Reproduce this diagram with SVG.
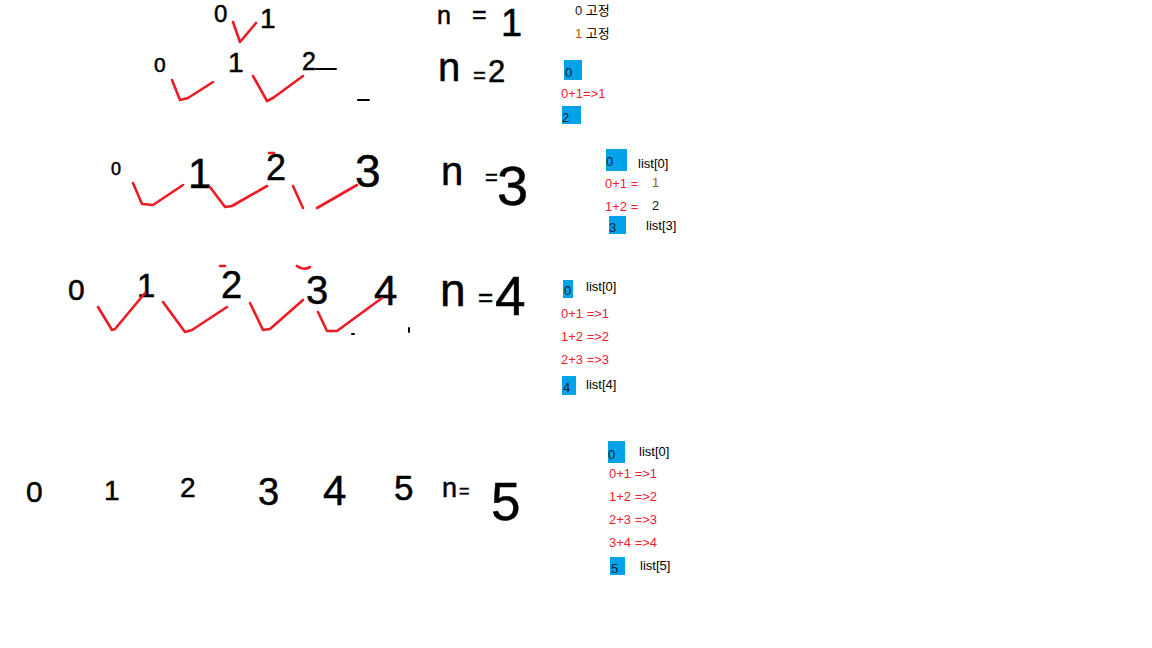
<svg xmlns="http://www.w3.org/2000/svg" width="1152" height="648" viewBox="0 0 1152 648">
<style>
.h{font-family:"Liberation Sans",Arial,sans-serif;fill:#000;stroke:#000;stroke-width:0.5;}
.ck{fill:none;stroke:#ed1c24;stroke-width:2.6;stroke-linecap:round;stroke-linejoin:round;}
.mk{fill:none;stroke:#000;stroke-width:2;stroke-linecap:round;}
.t{font-family:"Liberation Sans","Noto Sans CJK KR",sans-serif;font-size:13px;fill:#000;}
.r{font-family:"Liberation Sans",sans-serif;font-size:13px;fill:#f52030;}
.d{fill:#102030;}
.o{fill:#9a5a10;}
.box{fill:#00a2e8;}
</style>
<rect width="1152" height="648" fill="#fff"/>

<g id="row1">
<text class="h" x="214" y="22" font-size="24">0</text>
<text class="h" x="260" y="28" font-size="28">1</text>
<text class="h"><tspan x="437" y="24" font-size="25">n</tspan><tspan x="472" y="23" font-size="25">=</tspan><tspan x="501" y="36" font-size="38">1</tspan></text>
</g>

<g id="row2">
<text class="h" x="154" y="72" font-size="21">0</text>
<text class="h" x="228" y="72" font-size="28">1</text>
<text class="h" x="302" y="70" font-size="25">2</text>
<path class="mk" d="M316 69 L336 69"/>
<text class="h"><tspan x="438" y="81" font-size="40">n</tspan><tspan x="473" y="83" font-size="22">=</tspan><tspan x="488" y="82" font-size="31">2</tspan></text>
<path class="mk" d="M358 100 L369 100"/>
</g>

<g id="row3">
<text class="h" x="111" y="175" font-size="18">0</text>
<text class="h" x="188" y="188" font-size="42">1</text>
<text class="h" x="266" y="180" font-size="36">2</text>
<text class="h" x="355" y="187" font-size="46">3</text>
<text class="h"><tspan x="441" y="185" font-size="40">n</tspan><tspan x="485" y="185" font-size="22">=</tspan><tspan x="497" y="205" font-size="56">3</tspan></text>
</g>

<g id="row4">
<text class="h" x="68" y="300" font-size="30">0</text>
<text class="h" x="137" y="297" font-size="33">1</text>
<text class="h" x="221" y="298" font-size="38">2</text>
<text class="h" x="306" y="304" font-size="40">3</text>
<text class="h" x="374" y="305" font-size="42">4</text>
<text class="h"><tspan x="440" y="306" font-size="46">n</tspan><tspan x="478" y="306" font-size="26">=</tspan><tspan x="495" y="315" font-size="55">4</tspan></text>
<path class="mk" d="M352 334 L354 334 M409 328 L409 332"/>
</g>

<g id="row5">
<text class="h" x="26" y="502" font-size="30">0</text>
<text class="h" x="104" y="500" font-size="28">1</text>
<text class="h" x="180" y="497" font-size="28">2</text>
<text class="h" x="258" y="505" font-size="38">3</text>
<text class="h" x="323" y="505" font-size="42">4</text>
<text class="h" x="394" y="500" font-size="35">5</text>
<text class="h"><tspan x="442" y="497" font-size="27">n</tspan><tspan x="459" y="497" font-size="18">=</tspan><tspan x="491" y="520" font-size="53">5</tspan></text>
</g>

<g id="connectors">
<polyline class="ck" points="233,22 240,42 256,23"/>
<polyline class="ck" points="172,80 180,100 188,98 213,82"/>
<polyline class="ck" points="253,76 267,101 273,98 303,76"/>
<polyline class="ck" points="133,183 142,204 153,205 183,185"/>
<polyline class="ck" points="210,187 225,207 232,206 267,186"/>
<polyline class="ck" points="293,186 303,208"/>
<polyline class="ck" points="317,208 357,185"/>
<path class="ck" d="M269 153 L274 153"/>
<polyline class="ck" points="98,307 112,330 115,329 145,293"/>
<polyline class="ck" points="163,302 185,332 192,330 227,307"/>
<polyline class="ck" points="250,303 263,330 270,329 303,300"/>
<polyline class="ck" points="318,312 327,331 337,331 382,298"/>
<path class="ck" d="M220 266 L225 266"/>
<path class="ck" d="M297 266 Q303 271 310 267"/>
</g>

<g id="panel1">
<text class="t" x="575" y="15"><tspan class="d">0</tspan> 고정</text>
<text class="t" x="575" y="38"><tspan class="o">1</tspan> 고정</text>
</g>

<g id="panel2">
<rect class="box" x="564" y="60" width="18" height="20"/>
<text class="t d" x="565" y="77">0</text>
<text class="r" x="561" y="98">0+1=&gt;1</text>
<rect class="box" x="562" y="106" width="19" height="18"/>
<text class="t d" x="562" y="122">2</text>
</g>

<g id="panel3">
<rect class="box" x="606" y="149" width="21" height="22"/>
<text class="t d" x="606" y="166">0</text>
<text class="t" x="638" y="168">list[0]</text>
<text class="r" x="605" y="188">0+1 =</text>
<text class="t o" x="652" y="187">1</text>
<text class="r" x="605" y="211">1+2 =</text>
<text class="t d" x="652" y="210">2</text>
<rect class="box" x="609" y="216" width="17" height="18"/>
<text class="t d" x="609" y="232">3</text>
<text class="t" x="646" y="230">list[3]</text>
</g>

<g id="panel4">
<rect class="box" x="563" y="280" width="10" height="18"/>
<text class="t d" x="564" y="295">0</text>
<text class="t" x="586" y="291">list[0]</text>
<text class="r" x="561" y="318">0+1 =&gt;1</text>
<text class="r" x="561" y="341">1+2 =&gt;2</text>
<text class="r" x="561" y="364">2+3 =&gt;3</text>
<rect class="box" x="562" y="376" width="14" height="19"/>
<text class="t d" x="563" y="392">4</text>
<text class="t" x="586" y="389">list[4]</text>
</g>

<g id="panel5">
<rect class="box" x="608" y="441" width="17" height="22"/>
<text class="t d" x="608" y="459">0</text>
<text class="t" x="639" y="456">list[0]</text>
<text class="r" x="609" y="478">0+1 =&gt;1</text>
<text class="r" x="609" y="501">1+2 =&gt;2</text>
<text class="r" x="609" y="524">2+3 =&gt;3</text>
<text class="r" x="609" y="547">3+4 =&gt;4</text>
<rect class="box" x="610" y="557" width="15" height="18"/>
<text class="t d" x="611" y="573">5</text>
<text class="t" x="640" y="570">list[5]</text>
</g>
</svg>
